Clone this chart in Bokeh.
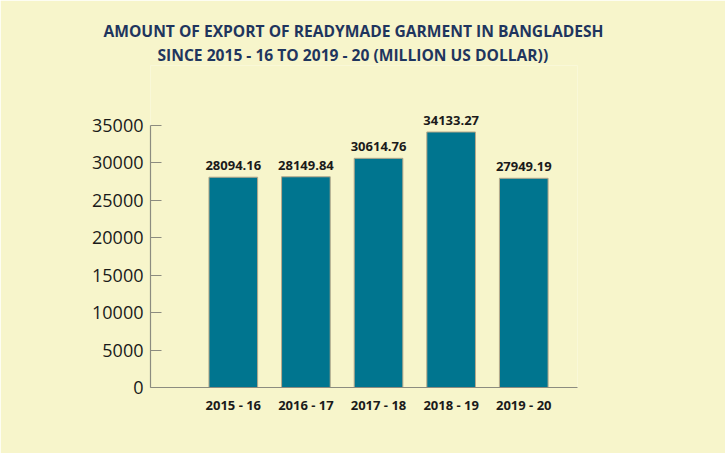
from bokeh.plotting import figure
from bokeh.models import FixedTicker, Range1d, Title
from bokeh.core.properties import value
from bokeh.embed import file_html
from bokeh.resources import INLINE

years = ["2015 - 16", "2016 - 17", "2017 - 18", "2018 - 19", "2019 - 20"]
exports = [28094.16, 28149.84, 30614.76, 34133.27, 27949.19]
value_labels = ["28094.16", "28149.84", "30614.76", "34133.27", "27949.19"]
y_ticks = [0, 5000, 10000, 15000, 20000, 25000, 30000, 35000]
title_lines = ["AMOUNT OF EXPORT OF READYMADE GARMENT IN BANGLADESH",
               "SINCE 2015 - 16 TO 2019 - 20 (MILLION US DOLLAR))"]

BG = "#f7f5cb"
BAR = "#00758f"
AXIS = "#8c8c80"
NAVY = "#1f355e"

xs = list(range(len(years)))

X0, X1 = -1.14, 4.74
p = figure(width=725, height=453, output_backend="svg", toolbar_location=None,
           title=None,
           x_range=Range1d(X0, X1), y_range=Range1d(0, 43015),
           min_border_left=150, min_border_right=148,
           min_border_top=65, min_border_bottom=66)
p.background_fill_color = BG
p.border_fill_color = BG
p.outline_line_color = None
p.grid.grid_line_color = None

# second line added first (closest to the frame), then first line above it
for line, off, stand in [(title_lines[1], 7, 0), (title_lines[0], -47, 0)]:
    t = Title(text=line, align="left", offset=off, standoff=stand,
              text_font="Open Sans", text_font_style="bold",
              text_font_size="15.6px", text_color=NAVY)
    p.add_layout(t, "above")

p.vbar(x=xs, top=exports, width=0.67, fill_color=BAR,
       line_color="#b8a98a", line_width=1)

p.text(x=xs, y=exports, text=value_labels, text_align="center",
       text_baseline="bottom", y_offset=-7,
       text_font=value("Open Sans"), text_font_style="bold",
       text_font_size="13px", text_color="#1a1a1a")

# y axis
ya = p.yaxis[0]
ya.ticker = FixedTicker(ticks=y_ticks)
ya.bounds = (0, 35000)
ya.axis_line_color = AXIS
ya.axis_line_width = 1.2
ya.major_tick_line_color = AXIS
ya.major_tick_line_width = 1.2
ya.major_tick_in = 11
ya.major_tick_out = 0
ya.minor_tick_line_color = None
ya.major_label_standoff = 7
ya.major_label_text_font = "Open Sans"
ya.major_label_text_font_size = "18px"
ya.major_label_text_color = "#1a1a1a"

# x axis
xa = p.xaxis[0]
xa.ticker = FixedTicker(ticks=xs)
xa.major_label_overrides = {i: y for i, y in enumerate(years)}
xa.bounds = (X0, X1)
xa.axis_line_color = AXIS
xa.axis_line_width = 1.2
xa.major_tick_line_color = None
xa.minor_tick_line_color = None
xa.major_tick_in = 0
xa.major_tick_out = 0
xa.major_label_standoff = 8
xa.major_label_text_font = "Open Sans"
xa.major_label_text_font_style = "bold"
xa.major_label_text_font_size = "13px"
xa.major_label_text_color = "#1a1a1a"

open("out.html", "w").write(file_html(p, INLINE))
